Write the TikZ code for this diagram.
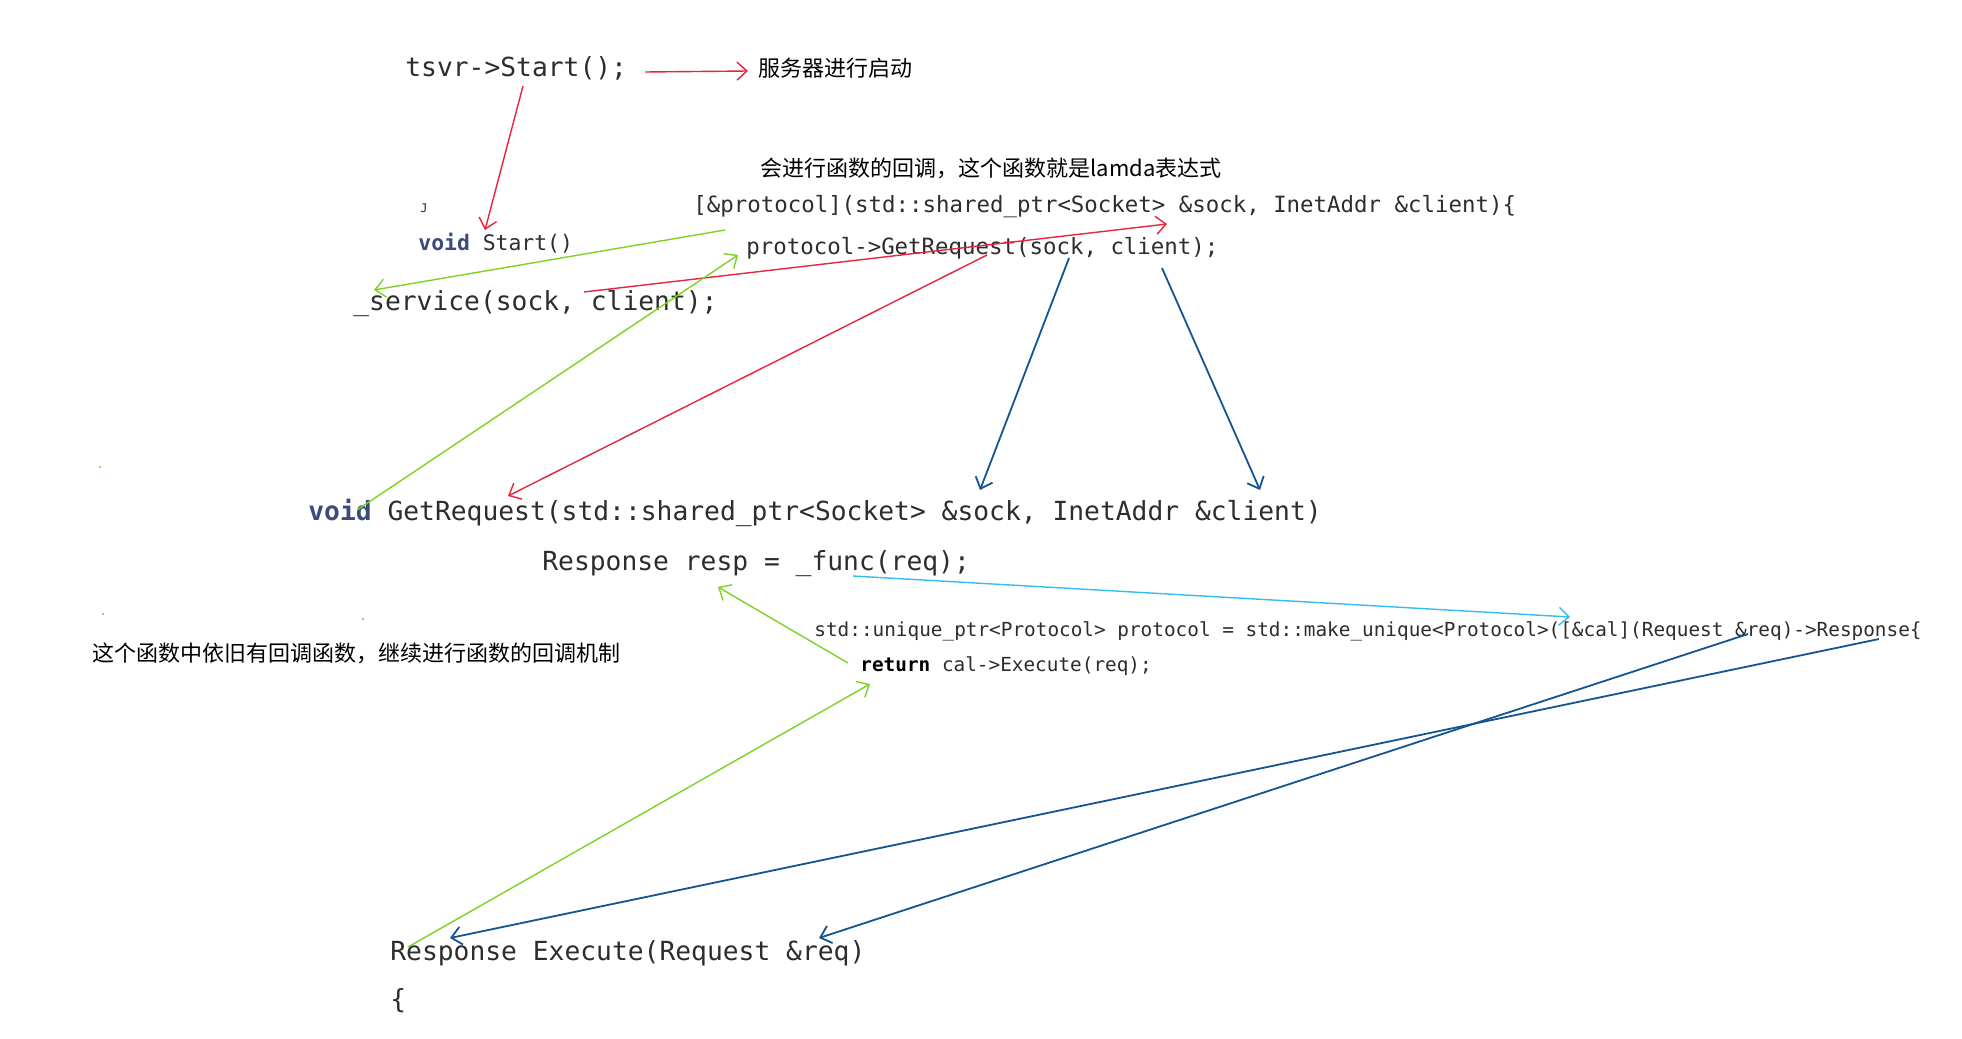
\documentclass[tikz,border=0pt]{standalone}
\usepackage{fontspec}
\setmainfont{Liberation Sans}
\newfontfamily\cjk{Noto Sans CJK SC}
\newfontfamily\code{DejaVu Sans Mono}
\usetikzlibrary{arrows.meta}
\definecolor{cred}{RGB}{232,36,60}
\definecolor{cgreen}{RGB}{125,210,35}
\definecolor{cblue}{RGB}{20,85,145}
\definecolor{ccyan}{RGB}{50,190,240}
\definecolor{codegray}{RGB}{45,45,45}
\definecolor{kw}{RGB}{60,75,125}
\begin{document}
\begin{tikzpicture}[x=0.5pt,y=-0.5pt,
  codeL/.style={anchor=west, inner sep=0pt, text=codegray, font=\code\fontsize{13.15}{16}\selectfont},
  codeM/.style={anchor=west, inner sep=0pt, text=codegray, font=\code\fontsize{11.2}{14}\selectfont},
  codeS/.style={anchor=west, inner sep=0pt, text=codegray, font=\code\fontsize{10.7}{13}\selectfont},
  codeXS/.style={anchor=west, inner sep=0pt, text=codegray, font=\code\fontsize{9.68}{12}\selectfont},
  note/.style={anchor=west, inner sep=0pt, text=black, font=\cjk\fontsize{11}{13}\selectfont},
  arr/.style={-{Straight Barb[length=5pt,width=9pt]}, line width=0.7pt},
  redarr/.style={arr, draw=cred},
  greenarr/.style={arr, draw=cgreen},
  bluearr/.style={arr, draw=cblue, line width=0.9pt},
  cyanarr/.style={arr, draw=ccyan}]
\useasboundingbox (0,0) rectangle (1962,1038);
\fill[white] (0,0) rectangle (1962,1038);

% texts
\node[codeL] (tsvr) at (405,68) {tsvr->Start();};
\node[note] (start) at (758,68) {服务器进行启动};
\node[note] (lamnote) at (760,168) {会进行函数的回调，这个函数就是lamda表达式};
\node[codeM] (lambda) at (693,207) {[\&protocol](std::shared\_ptr<Socket> \&sock, InetAddr \&client)\{};
\node[anchor=center, inner sep=0pt, text=codegray, font=\code\fontsize{6}{6}\selectfont] (mark) at (424,208) {J};
\node[codeS] (vstart) at (418,243) {\textcolor{kw}{\bfseries void} Start()};
\node[codeM] (getreq) at (746,248) {protocol->GetRequest(sock, client);};
\node[codeL] (service) at (353,304) {\_service(sock, client);};
\node[codeL] (getdef) at (308,513) {\textcolor{kw}{\bfseries void} GetRequest(std::shared\_ptr<Socket> \&sock, InetAddr \&client)};
\node[codeL] (resp) at (542,564) {Response resp = \_func(req);};
\node[codeXS] (uniq) at (814,631) {std::unique\_ptr<Protocol> protocol = std::make\_unique<Protocol>([\&cal](Request \&req)->Response\{};
\node[codeXS] (ret) at (860,666) {\textcolor{black}{\bfseries return} cal->Execute(req);};
\node[note] (cbnote) at (92,653) {这个函数中依旧有回调函数，继续进行函数的回调机制};
\node[codeL] (exec) at (390,953) {Response Execute(Request \&req)};
\node[codeL] (brace) at (390,1001) {\{};

% small dots
\fill[cgreen] (100,467) circle (1.2);
\fill[ccyan] (103,614) circle (1.2);
\fill[ccyan] (363,619) circle (1.2);

% connector end points
\coordinate (r1a) at (645,72);  \coordinate (r1b) at (748,71);
\coordinate (r2a) at (523,86);  \coordinate (r2b) at (485,230);
\coordinate (r3a) at (584,292); \coordinate (r3b) at (1167,224);
\coordinate (r4a) at (987,255); \coordinate (r4b) at (508,496);
\coordinate (g1a) at (725,230); \coordinate (g1b) at (374,290);
\coordinate (g2a) at (357,510); \coordinate (g2b) at (738,255);
\coordinate (g3a) at (848,663); \coordinate (g3b) at (718,587);
\coordinate (g4a) at (408,947); \coordinate (g4b) at (870,684);
\coordinate (b1a) at (1069,258);\coordinate (b1b) at (980,490);
\coordinate (b2a) at (1162,268);\coordinate (b2b) at (1260,490);
\coordinate (b3a) at (1748,634);\coordinate (b3b) at (819,938);
\coordinate (b4a) at (1879,639);\coordinate (b4b) at (450,938);
\coordinate (c1a) at (853,576); \coordinate (c1b) at (1570,617);

% red
\draw[redarr] (r1a) -- (r1b);
\draw[redarr] (r2a) -- (r2b);
\draw[redarr] (r3a) -- (r3b);
\draw[redarr] (r4a) -- (r4b);
% green
\draw[greenarr] (g1a) -- (g1b);
\draw[greenarr] (g2a) -- (g2b);
\draw[greenarr] (g3a) -- (g3b);
\draw[greenarr] (g4a) -- (g4b);
% blue
\draw[bluearr] (b1a) -- (b1b);
\draw[bluearr] (b2a) -- (b2b);
\draw[bluearr] (b3a) -- (b3b);
\draw[bluearr] (b4a) -- (b4b);
% cyan
\draw[cyanarr] (c1a) -- (c1b);
\end{tikzpicture}
\end{document}
